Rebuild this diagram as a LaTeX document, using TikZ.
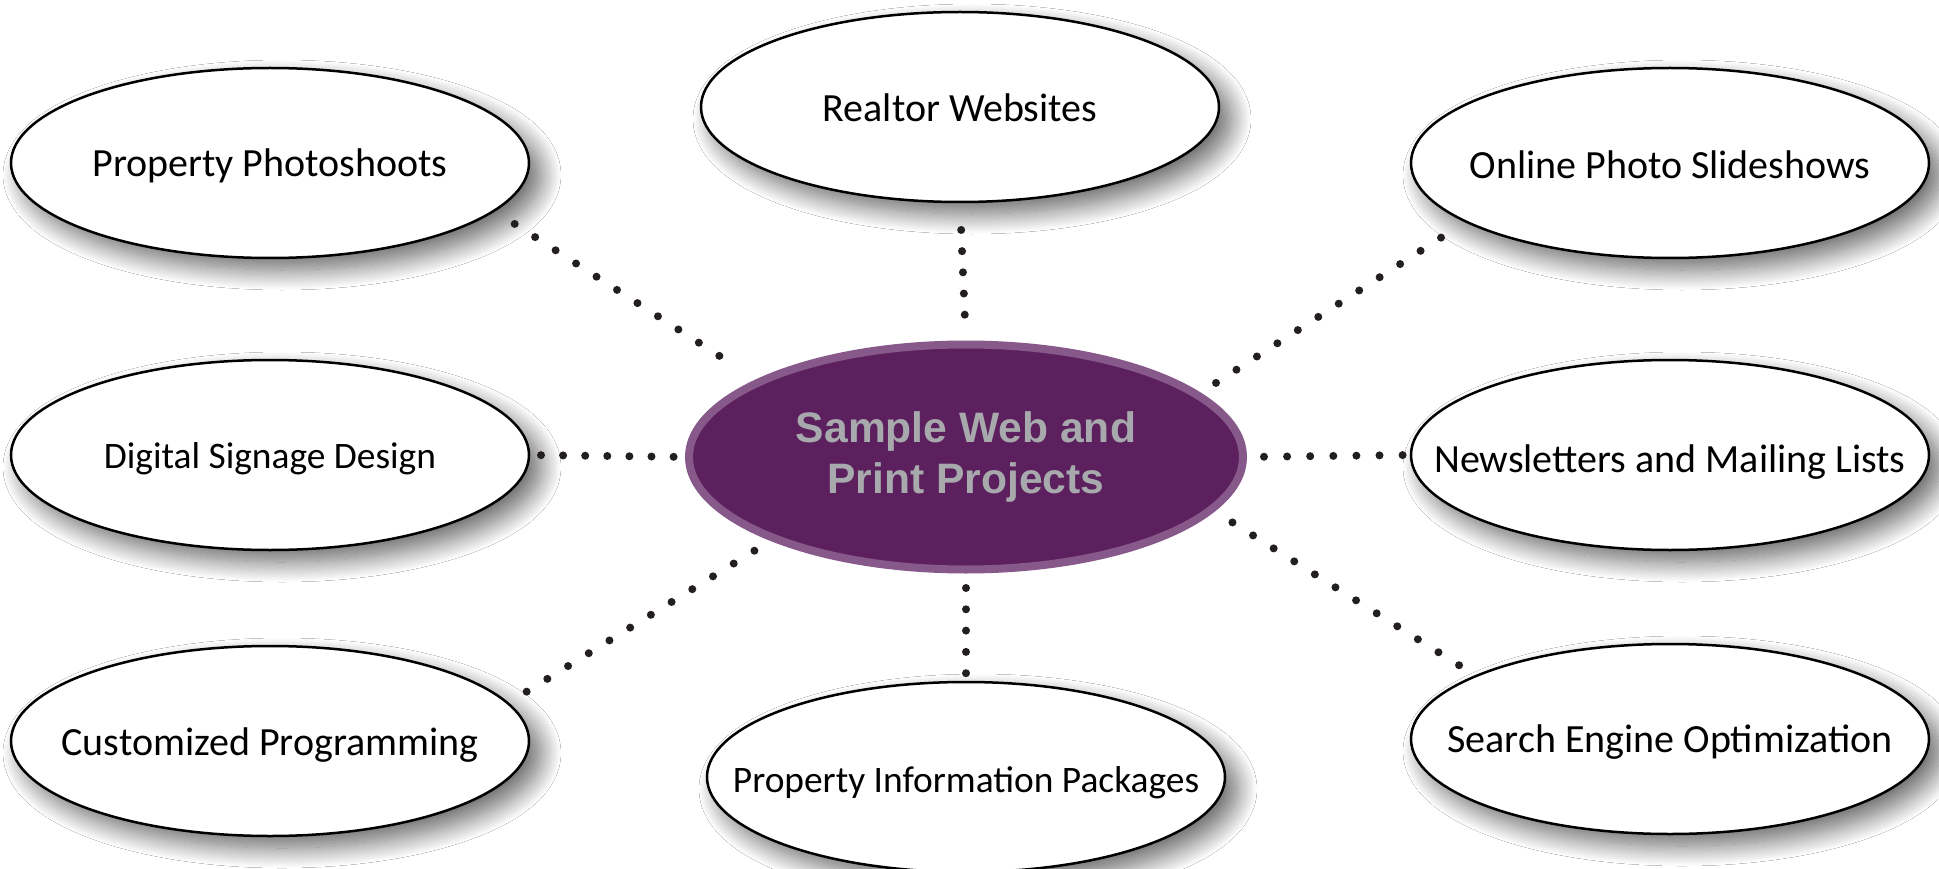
\documentclass[tikz,border=0pt]{standalone}
\usepackage{fontspec}
\setmainfont{Carlito}
\newfontfamily\hubfont{Liberation Sans}
\usetikzlibrary{shapes.geometric,shadows.blur}
\definecolor{hubfill}{RGB}{92,32,94}
\definecolor{hubedge}{RGB}{135,88,138}
\definecolor{hubtext}{RGB}{167,169,172}
\definecolor{dotcol}{RGB}{35,31,32}
\newcommand\zbox[2][3]{\makebox[0pt]{\raisebox{-#1pt}[\height][\depth]{#2}}}
\tikzset{
  leaf/.style={ellipse, draw=black, line width=2.5pt, fill=white,
    minimum width=518pt, minimum height=190pt, inner sep=0pt, outer sep=0pt,
    font=\fontsize{40}{48}\selectfont,
    blur shadow={shadow xshift=12pt, shadow yshift=-12pt, shadow blur radius=20pt,
      shadow blur steps=24, shadow opacity=60}},
  smalltext/.style={font=\fontsize{37.4}{45}\selectfont},
  hub/.style={ellipse, draw=hubedge, line width=8pt, fill=hubfill,
    minimum width=554pt, minimum height=225pt, inner sep=0pt, outer sep=0pt,
    text=hubtext, align=center, font=\hubfont\bfseries\fontsize{42.6}{51}\selectfont},
  dotline/.style={draw=dotcol, line width=8pt, line cap=round, dash pattern=on 0pt off #1pt},
}
\begin{document}
\begin{tikzpicture}[x=1pt,y=-1pt]
\useasboundingbox (0,0) rectangle (1939,869);
\fill[white] (0,0) rectangle (1939,869);
\node[leaf] (pp)  at (270,163)  {\zbox[3]{Property Photoshoots}};
\node[leaf] (rw)  at (960,107)  {\zbox[0.5]{Realtor Websites}};
\node[leaf] (ops) at (1670,163) {\zbox[1.5]{Online Photo Slideshows}};
\node[leaf, smalltext] (dsd) at (270,455)  {\zbox[3.5]{Digital Signage Design}};
\node[leaf] (nml) at (1670,455) {\zbox[7]{Newsletters and Mailing Lists}};
\node[leaf] (cp)  at (270,741)  {\zbox[4]{Customized Programming}};
\node[leaf, smalltext] (pip) at (966,777)  {\zbox[6]{Property Information Packages}};
\node[leaf] (seo) at (1670,739) {\zbox[3]{Search Engine Optimization}};
\node[hub] (c) at (966,457) {Sample Web and\\Print Projects};
\draw[dotline=24.35, shorten <=24.5pt, shorten >=24.3pt] (pp.-12.8) -- (c.160);
\draw[dotline=21.2, shorten <=28pt, shorten >=29.5pt] (rw.south) -- (c.north);
\draw[dotline=24.35, shorten <=29.7pt, shorten >=22.1pt] (ops.-164.2) -- (c.15.8);
\draw[dotline=22.1, shorten <=12pt, shorten >=15pt] (dsd.east) -- (c.west);
\draw[dotline=23.1, shorten <=21pt, shorten >=8pt] (c.east) -- (nml.west);
\draw[dotline=24.35, shorten <=22.2pt, shorten >=20.5pt] (cp.9.1) -- (c.-157.6);
\draw[dotline=21.3, shorten <=18.5pt, shorten >=8pt] (c.south) -- (pip.north);
\draw[dotline=24.35, shorten <=20.2pt, shorten >=22.8pt] (seo.162.8) -- (c.-12.8);
\end{tikzpicture}
\end{document}
